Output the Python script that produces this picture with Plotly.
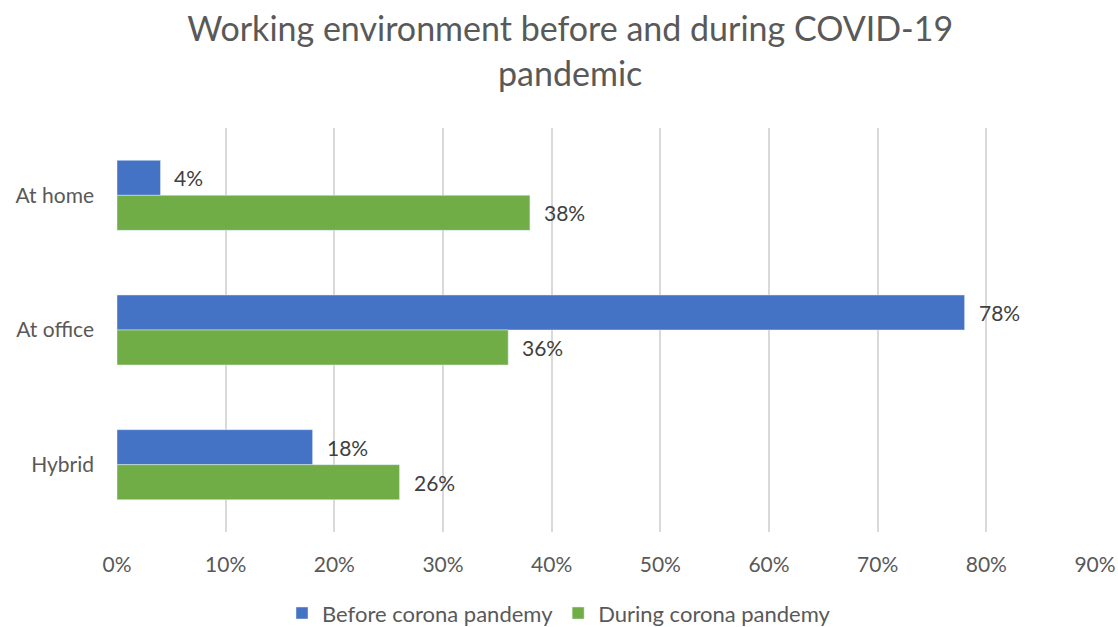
import plotly.graph_objects as go

categories = ["At home", "At office", "Hybrid"]
before_values = [0.04, 0.78, 0.18]
during_values = [0.38, 0.36, 0.26]
series_names = ["Before corona pandemy", "During corona pandemy"]
tick_values = [0, 0.1, 0.2, 0.3, 0.4, 0.5, 0.6, 0.7, 0.8, 0.9]
tick_labels = ["0%", "10%", "20%", "30%", "40%", "50%", "60%", "70%", "80%", "90%"]

BLUE = "#4472C4"
GREEN = "#70AD47"
FONT = "Lato, 'Open Sans', sans-serif"

fig = go.Figure()
fig.add_trace(go.Bar(y=categories, x=before_values, orientation="h",
                     name=series_names[0], marker_color=BLUE))
fig.add_trace(go.Bar(y=categories, x=during_values, orientation="h",
                     name=series_names[1], marker_color=GREEN))

# value labels to the right of each bar, offset vertically to its slot in the group
annotations = []
for vals, dy in ((before_values, 17.5), (during_values, -17.5)):
    for cat, v in zip(categories, vals):
        annotations.append(dict(
            x=v, y=cat, xref="x", yref="y", text=f"{round(v * 100)}%",
            showarrow=False, xanchor="left", yanchor="middle",
            xshift=12, yshift=dy,
            font=dict(family=FONT, size=21, color="#404040")))

fig.update_layout(
    width=1118, height=627,
    paper_bgcolor="white", plot_bgcolor="white",
    margin=dict(l=117, r=23, t=128, b=95, autoexpand=False),
    barmode="group", bargap=0.48, bargroupgap=0,
    title=dict(text="Working environment before and during COVID-19<br>pandemic",
               x=0.51, xanchor="center", yref="container", y=0.934, yanchor="middle",
               font=dict(family=FONT, size=34, color="#595959")),
    font=dict(family=FONT, size=21, color="#595959"),
    xaxis=dict(range=[0, 0.9], tickvals=tick_values, ticktext=tick_labels,
               showgrid=True, gridcolor="#D9D9D9", gridwidth=2,
               zeroline=False, showline=False, ticks="",
               ticklabelstandoff=18,
               tickfont=dict(family=FONT, size=21, color="#595959")),
    yaxis=dict(categoryorder="array", categoryarray=categories,
               autorange="reversed", showgrid=False, ticks="",
               showline=False, ticklabelstandoff=22,
               tickfont=dict(family=FONT, size=21, color="#595959")),
    legend=dict(orientation="h", x=0.5, xref="container", xanchor="center",
                y=0.022, yref="container", yanchor="middle",
                font=dict(family=FONT, size=22, color="#595959"),
                traceorder="normal"),
    annotations=annotations,
)

fig.write_html("out.html")
